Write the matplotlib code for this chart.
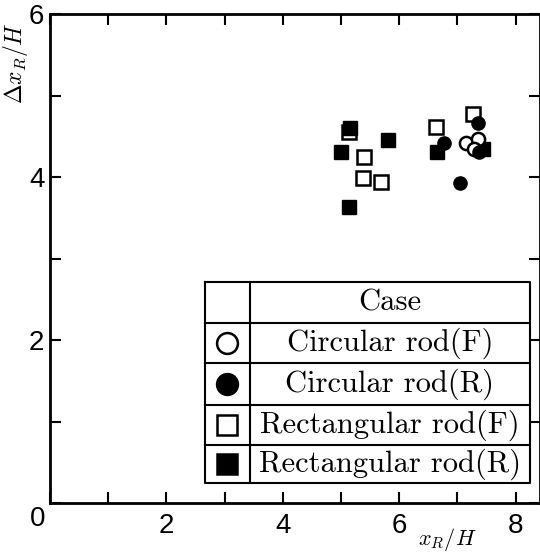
import matplotlib.pyplot as plt
from matplotlib.ticker import MultipleLocator

plt.rcParams["mathtext.fontset"] = "cm"

# reattachment length vs. its fluctuation range
circ_f_x = [7.15, 7.36, 7.29]
circ_f_y = [4.42, 4.47, 4.34]
circ_r_x = [6.77, 7.36, 7.04, 7.37]
circ_r_y = [4.42, 4.66, 3.93, 4.31]
rect_f_x = [5.14, 5.40, 5.38, 5.69, 6.63, 7.27]
rect_f_y = [4.55, 4.25, 3.99, 3.94, 4.61, 4.77]
rect_r_x = [5.15, 5.00, 5.81, 6.65, 5.14, 7.44]
rect_r_y = [4.60, 4.31, 4.45, 4.31, 3.63, 4.34]

cases = ["Circular rod(F)", "Circular rod(R)", "Rectangular rod(F)", "Rectangular rod(R)"]
case_markers = [("o", "white"), ("o", "black"), ("s", "white"), ("s", "black")]

fig = plt.figure(figsize=(5.4, 5.57), dpi=100)
ax = fig.add_axes([50 / 540, 54 / 557, 490 / 540, 489 / 557])

ms = 9.5
ax.plot(rect_f_x, rect_f_y, "s", ms=ms, mfc="white", mec="black", mew=1.8, ls="none")
ax.plot(rect_r_x, rect_r_y, "s", ms=ms, mfc="black", mec="black", ls="none")
ax.plot(circ_f_x, circ_f_y, "o", ms=ms, mfc="white", mec="black", mew=1.8, ls="none")
ax.plot(circ_r_x, circ_r_y, "o", ms=ms, mfc="black", mec="black", ls="none")

ax.set_xlim(0, 8.42)
ax.set_ylim(0, 6)
ax.xaxis.set_major_locator(MultipleLocator(2))
ax.xaxis.set_minor_locator(MultipleLocator(1))
ax.yaxis.set_major_locator(MultipleLocator(2))
ax.yaxis.set_minor_locator(MultipleLocator(1))
ax.tick_params(which="both", direction="in", length=8, width=1.5,
               top=True, right=True, labelsize=20, pad=7)
ax.tick_params(axis="y", pad=4)
for lab in ax.get_xticklabels() + ax.get_yticklabels():
    lab.set_fontfamily("Liberation Sans")
ax.set_xticks([2, 4, 6, 8])
ax.set_yticks([2, 4, 6])
ax.text(-0.22, -0.2, "0", fontsize=20, family="Liberation Sans",
        ha="center", va="center")
for s in ax.spines.values():
    s.set_linewidth(2)

ax.set_xlabel(r"$x_R/H$", fontsize=16)
ax.xaxis.set_label_coords(0.81, -0.048)
ax.set_ylabel(r"$\Delta x_R/H$", fontsize=17)
ax.yaxis.set_label_coords(-0.04, 0.9)

# legend drawn as a bordered table
x0, x1, xc = 2.66, 8.25, 3.43
rows = [2.71, 2.21, 1.72, 1.20, 0.71, 0.245]
lw = 1.5
ax.plot([x0, x1, x1, x0, x0], [rows[0], rows[0], rows[-1], rows[-1], rows[0]],
        color="black", lw=lw, clip_on=False)
ax.plot([xc, xc], [rows[0], rows[-1]], color="black", lw=lw)
for r in rows[1:-1]:
    ax.plot([x0, x1], [r, r], color="black", lw=lw)
ax.fill_between([x0, x1], rows[-1], rows[0], color="white", zorder=0.5)
tx = (xc + x1) / 2
ax.text(tx, (rows[0] + rows[1]) / 2, "Case", fontsize=22, family="cmr10",
        ha="center", va="center")
for i, (name, (mk, fc)) in enumerate(zip(cases, case_markers)):
    yc = (rows[i + 1] + rows[i + 2]) / 2
    ax.text(tx, yc, name, fontsize=22, family="cmr10", ha="center", va="center")
    ax.plot([(x0 + xc) / 2], [yc], mk, ms=15, mfc=fc, mec="black", mew=1.8)

fig.savefig("out.png", dpi=100)
